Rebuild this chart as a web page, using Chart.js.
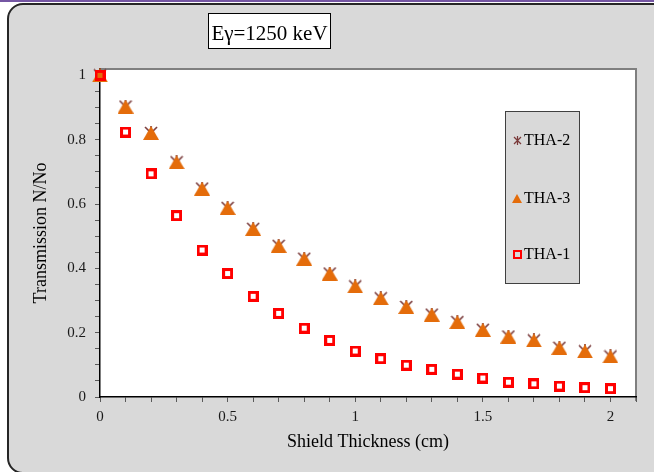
<!DOCTYPE html>
<html>
<head>
<meta charset="utf-8">
<title>Transmission vs Shield Thickness</title>
<script src="https://cdn.jsdelivr.net/npm/chart.js@4.4.1/dist/chart.umd.min.js"></script>
<style>
  html, body { margin: 0; padding: 0; background: #ffffff; overflow: hidden; }
  #wrap { position: relative; width: 654px; height: 472px; overflow: hidden; }
  #topline { position: absolute; left: 0; top: 0; width: 654px; height: 2px; background: #7556a3; }
  #panel { position: absolute; left: 7px; top: 3px; width: 680px; height: 471px; box-sizing: border-box;
           background: #d9d9d9; border: 2px solid #262626; border-radius: 16px; }
  #c { position: absolute; left: 0; top: 0; }
</style>
</head>
<body>
<div id="wrap">
  <div id="topline"></div>
  <div id="panel"></div>
  <canvas id="c" width="654" height="472"></canvas>
</div>
<script>
// Shield thickness (cm) and measured transmission N/No for each sample
const thickness = [0, 0.1, 0.2, 0.3, 0.4, 0.5, 0.6, 0.7, 0.8, 0.9, 1.0, 1.1, 1.2, 1.3, 1.4, 1.5, 1.6, 1.7, 1.8, 1.9, 2.0];
const tha2 = [1.000, 0.903, 0.821, 0.730, 0.648, 0.588, 0.523, 0.470, 0.430, 0.384, 0.344, 0.307, 0.280, 0.256, 0.233, 0.209, 0.188, 0.176, 0.153, 0.142, 0.126];
const tha3 = [1.000, 0.903, 0.821, 0.730, 0.648, 0.588, 0.523, 0.470, 0.430, 0.384, 0.344, 0.307, 0.280, 0.256, 0.233, 0.209, 0.188, 0.176, 0.153, 0.142, 0.126];
const tha1 = [1.000, 0.824, 0.694, 0.564, 0.457, 0.384, 0.313, 0.260, 0.214, 0.176, 0.143, 0.119, 0.099, 0.086, 0.071, 0.059, 0.046, 0.041, 0.034, 0.029, 0.026];
const seriesNames = ['THA-2', 'THA-3', 'THA-1'];

// Axis ticks (every minor position gets a tick mark, labels only on the majors)
const xTickValues = [0, 0.1, 0.2, 0.3, 0.4, 0.5, 0.6, 0.7, 0.8, 0.9, 1.0, 1.1, 1.2, 1.3, 1.4, 1.5, 1.6, 1.7, 1.8, 1.9, 2.0, 2.1];
const xTickLabels = ['0', '0.5', '1', '1.5', '2'];
const yTickValues = [0, 0.05, 0.1, 0.15, 0.2, 0.25, 0.3, 0.35, 0.4, 0.45, 0.5, 0.55, 0.6, 0.65, 0.7, 0.75, 0.8, 0.85, 0.9, 0.95, 1.0];
const yTickLabels = ['0', '0.2', '0.4', '0.6', '0.8', '1'];

const chartTitle = 'Eγ=1250 keV';
const xAxisTitle = 'Shield Thickness (cm)';
const yAxisTitle = 'Transmission N/No';

const SERIF = "'Liberation Serif', 'Times New Roman', serif";
const ORANGE = '#e46c0a';
const BROWN = '#7a3a3a';
const RED = '#ff0000';

// Marker sprites, centred on their bounding boxes
function sprite(w, h, paint) {
  const c = document.createElement('canvas');
  c.width = w; c.height = h;
  paint(c.getContext('2d'), w, h);
  return c;
}
function starSprite(s, lw) {
  return sprite(s, s, (g, w, h) => {
    g.strokeStyle = BROWN; g.lineWidth = lw; g.lineCap = 'butt';
    g.beginPath();
    g.moveTo(1, 1); g.lineTo(w - 1, h - 1);
    g.moveTo(w - 1, 1); g.lineTo(1, h - 1);
    g.moveTo(w / 2, 0); g.lineTo(w / 2, h);
    g.stroke();
  });
}
function triangleSprite(w, h) {
  return sprite(w, h, (g) => {
    g.fillStyle = ORANGE;
    g.beginPath();
    g.moveTo(w / 2, 0); g.lineTo(w, h); g.lineTo(0, h);
    g.closePath(); g.fill();
  });
}
function squareSprite(s, lw) {
  return sprite(s, s, (g) => {
    g.strokeStyle = RED; g.lineWidth = lw;
    g.strokeRect(lw / 2, lw / 2, s - lw, s - lw);
  });
}
const markStar = starSprite(14, 1.6);
const markTriangle = triangleSprite(16, 14);
const markSquare = squareSprite(11, 3);
const legendMarks = [starSprite(9, 1.2), triangleSprite(10, 9), squareSprite(9, 2)];

function pointsOf(values) {
  return thickness.map((t, i) => ({ x: t, y: values[i] }));
}

function labelFor(list, v) {
  const l = list.find(t => Math.abs(Number(t) - v) < 1e-6);
  return l === undefined ? '' : l;
}

// White plot area with a grey frame on the top and right
const plotFrame = {
  id: 'plotFrame',
  beforeDraw(chart) {
    const { ctx, chartArea: a } = chart;
    ctx.save();
    ctx.fillStyle = '#ffffff';
    ctx.fillRect(a.left, a.top, a.right - a.left, a.bottom - a.top);
    ctx.strokeStyle = '#7f7f7f';
    ctx.lineWidth = 2;
    ctx.beginPath();
    ctx.moveTo(a.left, a.top);
    ctx.lineTo(a.right, a.top);
    ctx.lineTo(a.right, a.bottom + 4);
    ctx.stroke();
    ctx.restore();
  }
};

// Boxed title and the grey legend panel
const annotations = {
  id: 'annotations',
  afterDraw(chart) {
    const { ctx } = chart;
    ctx.save();
    ctx.font = '21px ' + SERIF;
    const tw = ctx.measureText(chartTitle).width;
    const cx = 269.5;
    const bw = tw + 6;
    ctx.fillStyle = '#ffffff';
    ctx.fillRect(cx - bw / 2, 13, bw, 36);
    ctx.strokeStyle = '#000000';
    ctx.lineWidth = 1;
    ctx.strokeRect(Math.round(cx - bw / 2) + 0.5, 13.5, Math.round(bw), 35);
    ctx.fillStyle = '#000000';
    ctx.textAlign = 'center';
    ctx.textBaseline = 'alphabetic';
    ctx.fillText(chartTitle, cx, 39.5);

    // legend
    ctx.fillStyle = '#d9d9d9';
    ctx.fillRect(505, 111, 75, 173);
    ctx.strokeStyle = '#404040';
    ctx.strokeRect(505.5, 111.5, 74, 172);
    ctx.font = '16px ' + SERIF;
    ctx.textAlign = 'left';
    ctx.textBaseline = 'middle';
    const rows = [140, 198, 254];
    chart.data.datasets.forEach((ds, i) => {
      const m = legendMarks[i];
      ctx.drawImage(m, Math.round(517 - m.width / 2), Math.round(rows[i] - m.height / 2));
      ctx.fillStyle = '#000000';
      ctx.fillText(ds.label, 524, rows[i] + 1);
    });
    ctx.restore();
  }
};

new Chart(document.getElementById('c'), {
  type: 'scatter',
  data: {
    datasets: [
      { label: seriesNames[0], data: pointsOf(tha2), pointStyle: markStar, order: 3 },
      { label: seriesNames[1], data: pointsOf(tha3), pointStyle: markTriangle, order: 2 },
      { label: seriesNames[2], data: pointsOf(tha1), pointStyle: markSquare, order: 1 }
    ].map(ds => Object.assign(ds, { showLine: false, clip: false, pointRadius: 8, pointHoverRadius: 8 }))
  },
  options: {
    responsive: false,
    animation: false,
    events: [],
    layout: { padding: { left: 0, top: 69, right: 18, bottom: 0 } },
    plugins: {
      legend: { display: false },
      tooltip: { enabled: false },
      title: { display: false }
    },
    scales: {
      x: {
        type: 'linear',
        min: 0,
        max: 2.1,
        afterBuildTicks: (s) => { s.ticks = xTickValues.map(v => ({ value: v })); },
        afterFit: (s) => { s.height = 75; },
        ticks: {
          autoSkip: false, maxRotation: 0, minRotation: 0,
          padding: 6,
          color: '#1a1a1a',
          font: { family: SERIF, size: 15 },
          callback: (v) => labelFor(xTickLabels, v)
        },
        grid: { drawOnChartArea: false, drawTicks: true, tickLength: 5, color: '#595959', lineWidth: 1 },
        border: { display: true, color: '#000000', width: 1.5 },
        title: {
          display: true, text: xAxisTitle, color: '#000000',
          font: { family: SERIF, size: 18 },
          padding: { top: 0, bottom: 19 }
        }
      },
      y: {
        type: 'linear',
        min: 0,
        max: 1.02,
        afterBuildTicks: (s) => { s.ticks = yTickValues.map(v => ({ value: v })); },
        afterFit: (s) => { s.width = 100; },
        ticks: {
          autoSkip: false,
          padding: 9,
          color: '#1a1a1a',
          font: { family: SERIF, size: 15 },
          callback: (v) => labelFor(yTickLabels, v)
        },
        grid: { drawOnChartArea: false, drawTicks: true, tickLength: 5, color: '#595959', lineWidth: 1 },
        border: { display: true, color: '#000000', width: 1.5 },
        title: {
          display: true, text: yAxisTitle, color: '#000000',
          font: { family: SERIF, size: 18 },
          padding: { top: 30, bottom: 0 }
        }
      }
    }
  },
  plugins: [plotFrame, annotations]
});
</script>
</body>
</html>
